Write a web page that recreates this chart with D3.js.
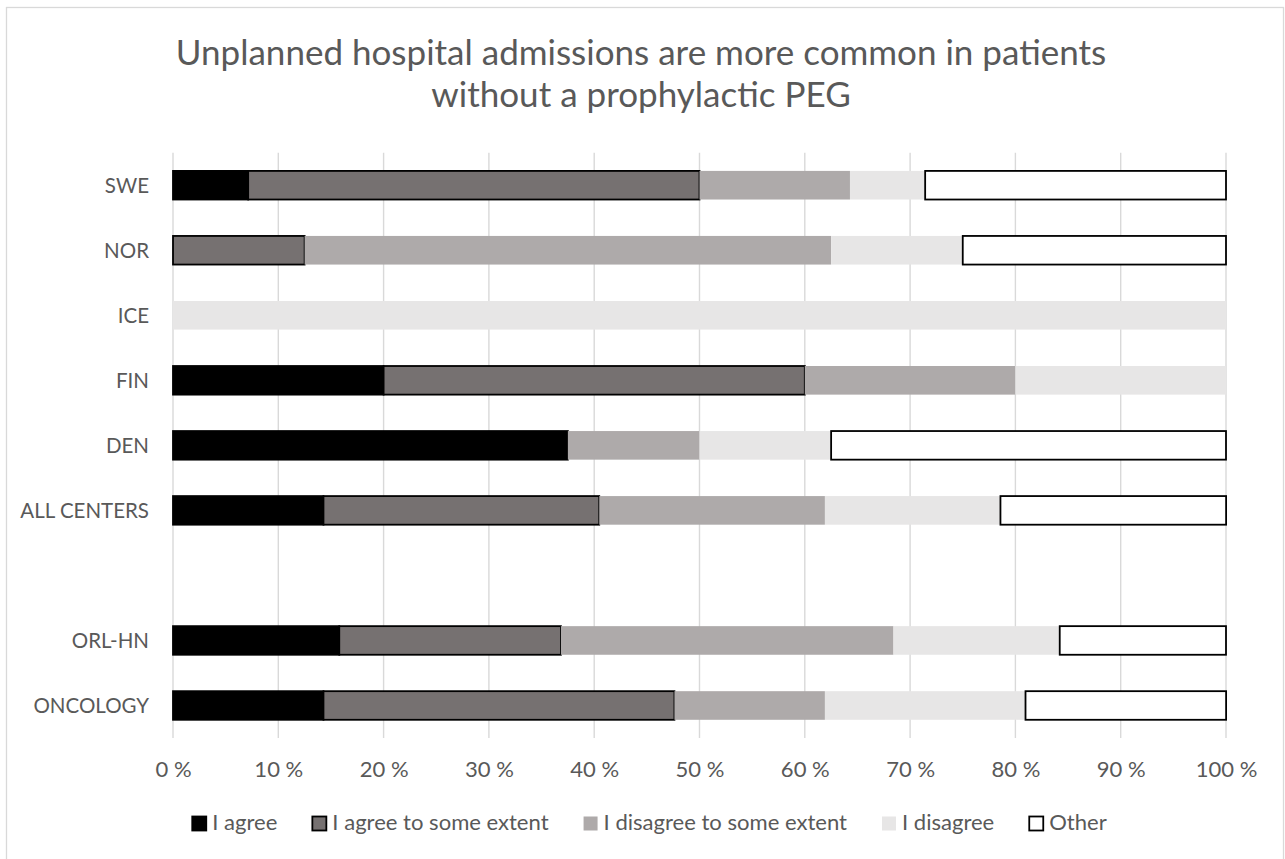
<!DOCTYPE html>
<html><head><meta charset="utf-8">
<script src="https://cdn.jsdelivr.net/npm/d3@7"></script>
<style>
body{margin:0;background:#fff;}
svg{display:block;font-family:Lato,"Open Sans",sans-serif;}
</style>
</head><body>
<svg id="chart" width="1285" height="859"></svg>
<script>
// ---- data ----
const categories = ["SWE","NOR","ICE","FIN","DEN","ALL CENTERS","","ORL-HN","ONCOLOGY"];
const seriesNames = ["I agree","I agree to some extent","I disagree to some extent","I disagree","Other"];
const iAgree        = [7.14, 0,    0,   20, 37.5, 14.29, 0, 15.79, 14.29];
const iAgreeSome    = [42.86,12.5, 0,   40, 0,    26.19, 0, 21.05, 33.33];
const iDisagreeSome = [14.29,50,   0,   20, 12.5, 21.43, 0, 31.58, 14.29];
const iDisagree     = [7.14, 12.5, 100, 20, 12.5, 16.67, 0, 15.79, 19.05];
const other         = [28.57,25,   0,   0,  37.5, 21.43, 0, 15.79, 19.05];
const tickValues = [0,10,20,30,40,50,60,70,80,90,100];
const tickLabels = ["0 %","10 %","20 %","30 %","40 %","50 %","60 %","70 %","80 %","90 %","100 %"];
const titleLines = ["Unplanned hospital admissions are more common in patients","without a prophylactic PEG"];

// ---- styles ----
const fills   = ["#000000","#767171","#AEAAAA","#E7E6E6","#FFFFFF"];
const strokes = ["#000000","#000000","none","none","#000000"];
const textColor = "#595959";
const gridColor = "#D9D9D9";

const seriesValues = [iAgree, iAgreeSome, iDisagreeSome, iDisagree, other];
const table = categories.map((c,i) => {
  const row = {cat:c};
  seriesNames.forEach((s,j) => row[s] = seriesValues[j][i]);
  return row;
});

const svg = d3.select("#chart");

// chart frame
svg.append("rect").attr("x",6.5).attr("y",7.5).attr("width",1277).attr("height",870)
  .attr("fill","#fff").attr("stroke",gridColor).attr("stroke-width",1.3);

// font scaling to match reference widths
const probe = svg.append("text").attr("font-size",37).text(titleLines[0]);
const k = 931 / probe.node().getComputedTextLength();
probe.remove();
const titleSize = 37*k, axisSize = 23.3*k, catSize = axisSize*0.93;

const x = d3.scaleLinear().domain([0,100]).range([173,1226]);
const y = d3.scaleBand().domain(categories).range([152.7,738]).paddingInner(0.56).paddingOuter(0.28);

// gridlines
svg.append("g").selectAll("line").data(tickValues).join("line")
  .attr("x1",d=>x(d)).attr("x2",d=>x(d)).attr("y1",152.7).attr("y2",738)
  .attr("stroke",gridColor).attr("stroke-width",1.4);

// bars
const stack = d3.stack().keys(seriesNames)(table);
svg.append("g").selectAll("g").data(stack).join("g")
  .attr("fill",(d,i)=>fills[i]).attr("stroke",(d,i)=>strokes[i]).attr("stroke-width",1.8)
  .selectAll("rect").data(d=>d.filter(p=>p[1]-p[0]>0)).join("rect")
  .attr("x",d=>x(d[0])).attr("width",d=>x(d[1])-x(d[0]))
  .attr("y",d=>y(d.data.cat)).attr("height",y.bandwidth());

// x axis labels
const xAxis = d3.axisBottom(x).tickValues(tickValues).tickFormat((d,i)=>tickLabels[i]).tickSize(0).tickPadding(0);
const gx = svg.append("g").attr("transform","translate(0,738)").call(xAxis);
gx.select(".domain").remove();
gx.selectAll("text").attr("font-size",axisSize).attr("fill",textColor)
  .attr("font-family","Lato, 'Open Sans', sans-serif").attr("dy",null).attr("y",39);

// y axis labels
const yAxis = d3.axisLeft(y).tickSize(0).tickPadding(0).tickFormat(d=>d);
const gy = svg.append("g").attr("transform","translate(149,0)").call(yAxis);
gy.select(".domain").remove();
gy.selectAll("text").attr("font-size",catSize).attr("fill",textColor)
  .attr("font-family","Lato, 'Open Sans', sans-serif").attr("dy","0.37em").attr("x",0);

// title
svg.append("g").selectAll("text").data(titleLines).join("text")
  .attr("x",641).attr("y",(d,i)=>65+i*41.7).attr("text-anchor","middle")
  .attr("font-size",titleSize).attr("fill",textColor).text(d=>d);

// legend
const lg = svg.append("g");
const items = lg.selectAll("g").data(seriesNames).join("g");
items.append("rect").attr("width",14).attr("height",14).attr("y",816.5)
  .attr("fill",(d,i)=>fills[i]).attr("stroke",(d,i)=>strokes[i]).attr("stroke-width",1.8);
items.append("text").attr("x",20).attr("y",830).attr("font-size",axisSize).attr("fill",textColor).text(d=>d);
let widths = [];
items.each(function(){ widths.push(this.querySelector("text").getComputedTextLength()+20); });
const gap = 35;
const total = d3.sum(widths) + gap*(widths.length-1);
let cx = 649.5 - total/2;
items.attr("transform",(d,i)=>{ const t = `translate(${cx},0)`; cx += widths[i]+gap; return t; });
</script>
</body></html>
